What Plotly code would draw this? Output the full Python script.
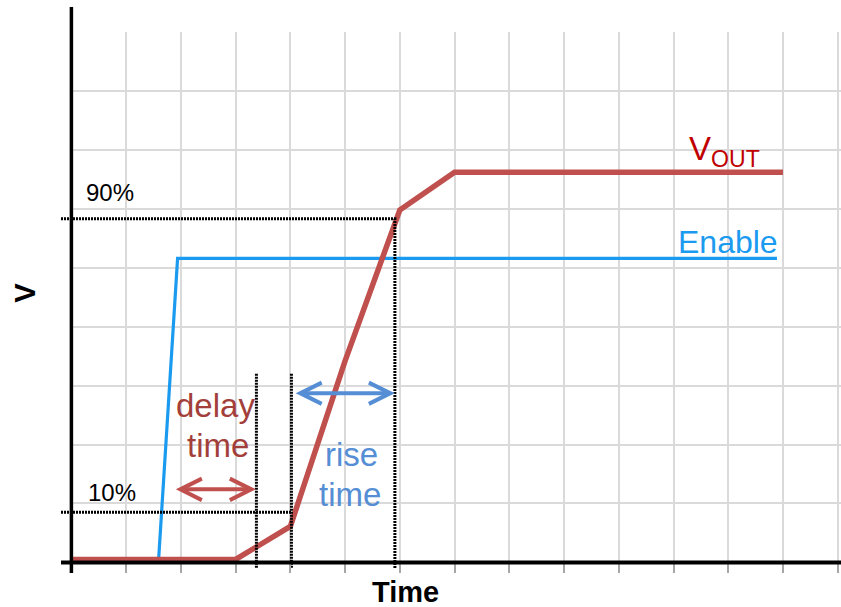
import plotly.graph_objects as go

FONT = "Liberation Sans, Arial, sans-serif"
RED = "#C0504D"
RED_TEXT = "#A33F3B"
BLUE = "#1A9BF0"
ARROW_BLUE = "#558ED5"
GRID = "#DADADA"

# waveforms (time in grid units, volts in grid units)
vout_t = [0, 3, 4, 5, 6, 7, 13]
vout_v = [0.05, 0.05, 0.61, 3.42, 5.98, 6.62, 6.62]
enable_t = [0, 1.59, 1.94, 12.89]
enable_v = [0, 0, 5.16, 5.16]

# threshold levels and timing markers
levels = {"10%": 0.85, "90%": 5.83}
t_delay_end = 3.38
t_rise_start = 4.02
t_rise_end = 5.91
marker_top = 3.2
delay_arrow = [1.88, 3.37, 1.24]   # start, end, level
rise_arrow = [4.07, 5.91, 2.87]

x_min, x_max = -0.19, 14.06
y_min, y_max = -0.18, 9.0

fig = go.Figure()

fig.add_trace(go.Scatter(x=enable_t, y=enable_v, mode="lines",
                         line=dict(color=BLUE, width=3.2), hoverinfo="skip"))
fig.add_trace(go.Scatter(x=vout_t, y=vout_v, mode="lines",
                         line=dict(color=RED, width=5.5), hoverinfo="skip"))

dot = dict(color="black", width=3, dash="2px,1px")
fig.add_trace(go.Scatter(x=[x_min, t_rise_end, t_rise_end], y=[levels["90%"], levels["90%"], -0.1],
                         mode="lines", line=dot, hoverinfo="skip"))
fig.add_trace(go.Scatter(x=[x_min, t_rise_start], y=[levels["10%"], levels["10%"]],
                         mode="lines", line=dot, hoverinfo="skip"))
for t in [t_delay_end, t_rise_start]:
    fig.add_trace(go.Scatter(x=[t, t], y=[marker_top, -0.1], mode="lines",
                             line=dot, hoverinfo="skip"))

# hide horizontal grid left of the value axis
fig.add_shape(type="rect", xref="x", yref="y", x0=x_min, x1=-0.03, y0=0.05, y1=y_max + 0.05,
              fillcolor="white", line=dict(width=0), layer="between")

# axis lines
fig.add_shape(type="line", xref="x", yref="y", x0=x_min, x1=x_max, y0=0, y1=0,
              line=dict(color="black", width=4), layer="above")
fig.add_shape(type="line", xref="x", yref="paper", x0=0, x1=0, y0=0, y1=1 + 25 / 541,
              line=dict(color="black", width=3.5), layer="above")

# double arrows
for (a0, a1, lvl), col in [(delay_arrow, RED), (rise_arrow, ARROW_BLUE)]:
    fig.add_annotation(x=a1, y=lvl, ax=a0, ay=lvl, xref="x", yref="y", axref="x", ayref="y",
                       text="", showarrow=True, arrowhead=5, startarrowhead=5,
                       arrowside="end+start", arrowsize=1.05, startarrowsize=1.05,
                       arrowwidth=4, arrowcolor=col)


def label(x, y, text, size, color, xanchor="center", **kw):
    fig.add_annotation(x=x, y=y, text=text, showarrow=False, xanchor=xanchor,
                       yanchor="middle", font=dict(size=size, color=color, family=FONT), **kw)


label(0.23, 6.27, "90%", 24, "black", xanchor="left")
label(0.265, 1.18, "10%", 24, "black", xanchor="left")
label(12.94, 5.44, "Enable", 32, BLUE, xanchor="right")
label(11.25, 6.98, "V<sub>OUT</sub>", 33, "#C00000", xanchor="left")
label(2.64, 2.67, "delay", 33, RED_TEXT)
label(2.68, 1.99, "time", 33, RED_TEXT)
label(5.11, 1.824, "rise", 33, ARROW_BLUE)
label(5.09, 1.145, "time", 33, ARROW_BLUE)
label(6.11, -0.0357, "<b>Time</b>", 29, "black", yref="paper")
label(-0.0467, 4.57, "<b>V</b>", 29, "black", xref="paper", textangle=-90)

fig.update_layout(
    width=841, height=607,
    margin=dict(l=61, r=0, t=32, b=34),
    paper_bgcolor="white", plot_bgcolor="white",
    showlegend=False,
    xaxis=dict(range=[x_min, x_max], dtick=1, tick0=0, showgrid=True, gridcolor=GRID,
               gridwidth=1.5, zeroline=False, showline=False, showticklabels=False,
               ticks="inside", ticklen=10, tickwidth=1.5, tickcolor="#A6A6A6"),
    yaxis=dict(range=[y_min, y_max], dtick=1, tick0=0, showgrid=True, gridcolor=GRID,
               gridwidth=1.5, zeroline=False, showline=False, showticklabels=False),
)

fig.write_html("out.html", config={"displayModeBar": False},
               post_script="document.body.style.margin='0';")
